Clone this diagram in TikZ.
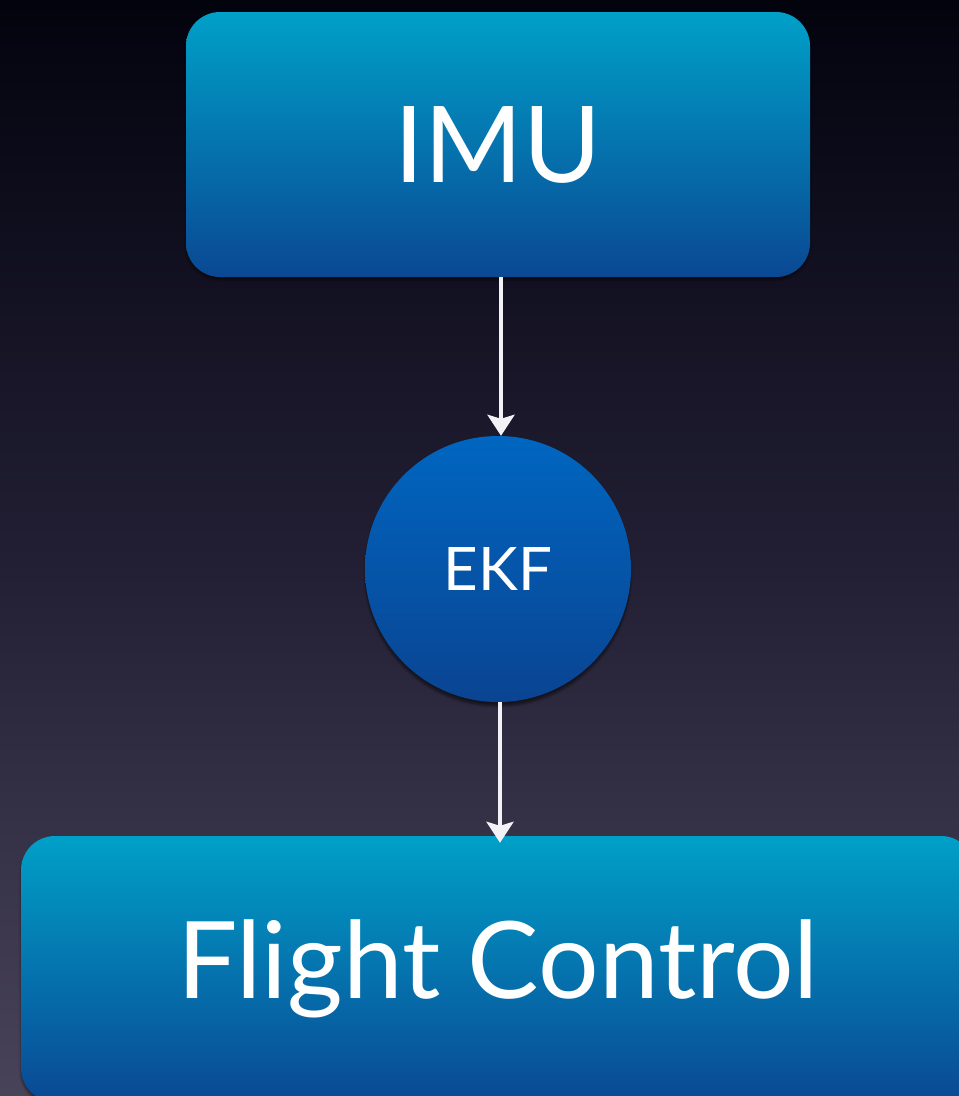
\documentclass[tikz,border=0pt]{standalone}
\usepackage{fontspec}
\setmainfont{Lato}
\usetikzlibrary{arrows.meta,shadows.blur}

\definecolor{bgtop}{RGB}{3,3,14}
\definecolor{bgmid}{RGB}{34,31,52}
\definecolor{bgbot}{RGB}{72,67,88}
\definecolor{boxtop}{RGB}{0,160,200}
\definecolor{boxbot}{RGB}{10,72,148}
\definecolor{disctop}{RGB}{0,102,192}
\definecolor{discbot}{RGB}{10,68,146}
\definecolor{arrowwhite}{RGB}{242,242,246}

\tikzset{
  panel/.style={rectangle, rounded corners=34pt, top color=boxtop, bottom color=boxbot,
    text=white, inner sep=0pt,
    blur shadow={shadow xshift=0pt, shadow yshift=-3pt, shadow blur steps=8, shadow opacity=45}},
  disc/.style={circle, minimum size=266pt, inner sep=0pt, top color=disctop, bottom color=discbot,
    text=white,
    blur shadow={shadow xshift=0pt, shadow yshift=-4pt, shadow blur steps=8, shadow opacity=50}},
  flow/.style={draw=arrowwhite, line width=4pt,
    -{Stealth[length=21pt, width=27pt, inset=4pt]}}
}

\begin{document}
\begin{tikzpicture}[x=1pt, y=-1pt]
  % backdrop
  \useasboundingbox (0,0) rectangle (959,1096);
  \clip (0,0) rectangle (959,1096);
  \shade[top color=bgtop, bottom color=bgmid] (0,0) rectangle (959,560);
  \shade[top color=bgmid, bottom color=bgbot] (0,559) rectangle (959,1096);

  % blocks
  \node[panel, minimum width=624pt, minimum height=265pt, font=\fontsize{106}{110}\selectfont]
    (imu) at (498,144.5) {IMU};
  \node[disc, font=\fontsize{60}{64}\selectfont] (ekf) at (498,569) {EKF};
  \node[panel, minimum width=954pt, minimum height=266pt, font=\fontsize{107}{112}\selectfont]
    (fc) at (498,969) {Flight Control};

  % signal path
  \draw[flow] ([xshift=3pt]imu.south) -- ([xshift=3pt]imu.south |- ekf.north);
  \draw[flow] ([xshift=2pt]ekf.south) -- ([xshift=2pt,yshift=-7pt]ekf.south |- fc.north);
\end{tikzpicture}
\end{document}
